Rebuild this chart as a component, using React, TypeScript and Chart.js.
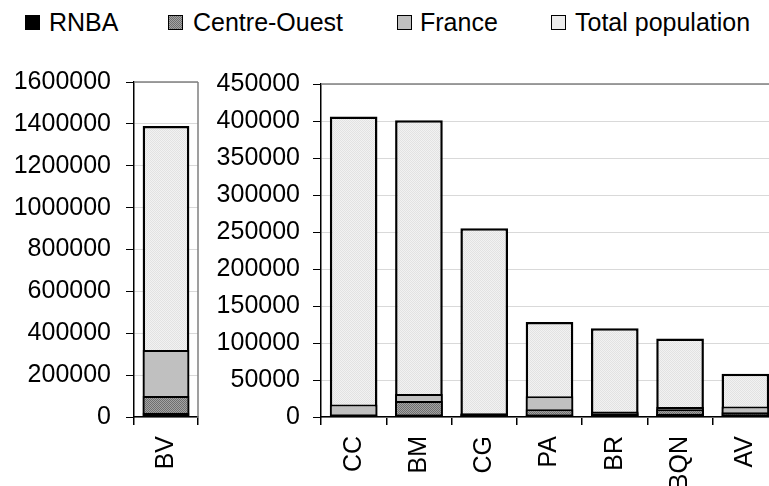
import React, { useEffect, useRef } from "react";
import { Chart, registerables } from "chart.js";
Chart.register(...registerables);

const seriesNames = ["RNBA", "Centre-Ouest", "France", "Total population"];

const leftCategories = ["BV"];
const rnbaLeft = [20000];
const centreOuestLeft = [100000];
const franceLeft = [320000];
const totalLeft = [1390000];

const rightCategories = ["CC", "BM", "CG", "PA", "BR", "BQN", "AV"];
const rnbaRight = [1500, 3000, 3500, 3000, 800, 4500, 2000];
const centreOuestRight = [2500, 21500, 4500, 10400, 5000, 10500, 6300];
const franceRight = [16750, 31000, 5000, 28000, 7500, 13500, 14200];
const totalRight = [406000, 401000, 255000, 128300, 120000, 106000, 58500];

const leftMax = 1600000;
const leftStep = 200000;
const rightMax = 450000;
const rightStep = 50000;

const FONT = "'Liberation Sans', Arial, sans-serif";

function makeChecker(a: string, b: string) {
  const c = document.createElement("canvas");
  c.width = 2;
  c.height = 2;
  const ctx = c.getContext("2d")!;
  ctx.fillStyle = a;
  ctx.fillRect(0, 0, 2, 2);
  ctx.fillStyle = b;
  ctx.fillRect(0, 0, 1, 1);
  ctx.fillRect(1, 1, 1, 1);
  return ctx.createPattern(c, "repeat")!;
}

const framePlugin = {
  id: "frame",
  beforeDatasetsDraw(chart: any) {
    const { ctx, chartArea: a } = chart;
    ctx.save();
    ctx.strokeStyle = "#808080";
    ctx.lineWidth = 1.5;
    ctx.beginPath();
    ctx.moveTo(a.left, a.top);
    ctx.lineTo(a.right, a.top);
    ctx.moveTo(a.right, a.top);
    ctx.lineTo(a.right, a.bottom);
    ctx.stroke();
    ctx.restore();
  },
};

type PanelProps = {
  labels: string[];
  rnba: number[];
  co: number[];
  fr: number[];
  total: number[];
  max: number;
  step: number;
  left: number;
  width: number;
  padTop: number;
  yWidth: number;
  yPad: number;
};

function Panel(p: PanelProps) {
  const ref = useRef<HTMLCanvasElement>(null);
  useEffect(() => {
    const coPat = makeChecker("#a4a4a4", "#6e6e6e");
    const totPat = makeChecker("#f2f2f2", "#e2e2e2");
    const base = {
      borderColor: "#000",
      borderSkipped: false as const,
      grouped: false,
      barPercentage: 0.73,
      categoryPercentage: 1,
    };
    const chart = new Chart(ref.current!, {
      type: "bar",
      data: {
        labels: p.labels,
        datasets: [
          { ...base, label: seriesNames[0], data: p.rnba, backgroundColor: "#000", borderWidth: 2 },
          { ...base, label: seriesNames[1], data: p.co, backgroundColor: coPat as any, borderWidth: 2 },
          { ...base, label: seriesNames[2], data: p.fr, backgroundColor: "#c0c0c0", borderWidth: 2 },
          { ...base, label: seriesNames[3], data: p.total, backgroundColor: totPat as any, borderWidth: 2.5 },
        ],
      },
      options: {
        animation: false,
        responsive: false,
        maintainAspectRatio: false,
        layout: { padding: { top: p.padTop, right: 2, left: 0, bottom: 0 } },
        plugins: { legend: { display: false }, tooltip: { enabled: false } },
        scales: {
          x: {
            offset: true,
            grid: { display: true, drawOnChartArea: false, tickLength: 8, tickColor: "#000", offset: true, lineWidth: 1.5 },
            border: { color: "#000", width: 1.5 },
            ticks: {
              autoSkip: false,
              minRotation: 90,
              maxRotation: 90,
              padding: 11,
              color: "#000",
              font: { family: FONT, size: 25 },
            },
            afterFit: (s: any) => {
              s.height = 69;
              s.paddingLeft = 0;
              s.paddingRight = 0;
            },
          },
          y: {
            min: 0,
            max: p.max,
            ticks: {
              stepSize: p.step,
              padding: p.yPad,
              color: "#000",
              font: { family: FONT, size: 25 },
              callback: (v: any) => String(v),
            },
            grid: { color: "#d9d9d9", lineWidth: 1, tickLength: 8, tickColor: "#000" },
            border: { color: "#000", width: 1.5 },
            afterFit: (s: any) => {
              s.width = p.yWidth;
              s.paddingTop = 0;
              s.paddingBottom = 0;
            },
          },
        },
      },
      plugins: [framePlugin],
    });
    return () => chart.destroy();
  }, []);
  return (
    <canvas
      ref={ref}
      width={p.width}
      height={426}
      style={{ position: "absolute", left: p.left, top: 60, width: p.width, height: 426 }}
    />
  );
}

const legendItems = [
  { name: seriesNames[0], box: 25, text: 49, bg: "#000" },
  { name: seriesNames[1], box: 168, text: 193, bg: "repeating-conic-gradient(#6e6e6e 0 25%, #a4a4a4 0 50%) 0 0 / 2px 2px" },
  { name: seriesNames[2], box: 397, text: 420, bg: "#c0c0c0" },
  { name: seriesNames[3], box: 551, text: 575, bg: "#ececec" },
];

export default function App() {
  return (
    <div
      style={{
        position: "absolute",
        left: 0,
        top: 0,
        width: 769,
        height: 486,
        overflow: "hidden",
        background: "#fff",
        fontFamily: FONT,
      }}
    >
      {legendItems.map((it) => (
        <React.Fragment key={it.name}>
          <div
            style={{
              position: "absolute",
              left: it.box,
              top: 15,
              width: 13,
              height: 13,
              border: "1.5px solid #000",
              background: it.bg,
            }}
          />
          <div
            style={{
              position: "absolute",
              left: it.text,
              top: 10,
              fontSize: 25,
              lineHeight: "25px",
              color: "#000",
              whiteSpace: "nowrap",
            }}
          >
            {it.name}
          </div>
        </React.Fragment>
      ))}
      <Panel
        labels={leftCategories}
        rnba={rnbaLeft}
        co={centreOuestLeft}
        fr={franceLeft}
        total={totalLeft}
        max={leftMax}
        step={leftStep}
        left={0}
        width={200}
        padTop={22}
        yWidth={134}
        yPad={15}
      />
      <Panel
        labels={rightCategories}
        rnba={rnbaRight}
        co={centreOuestRight}
        fr={franceRight}
        total={totalRight}
        max={rightMax}
        step={rightStep}
        left={200}
        width={580}
        padTop={24}
        yWidth={121}
        yPad={13}
      />
    </div>
  );
}
